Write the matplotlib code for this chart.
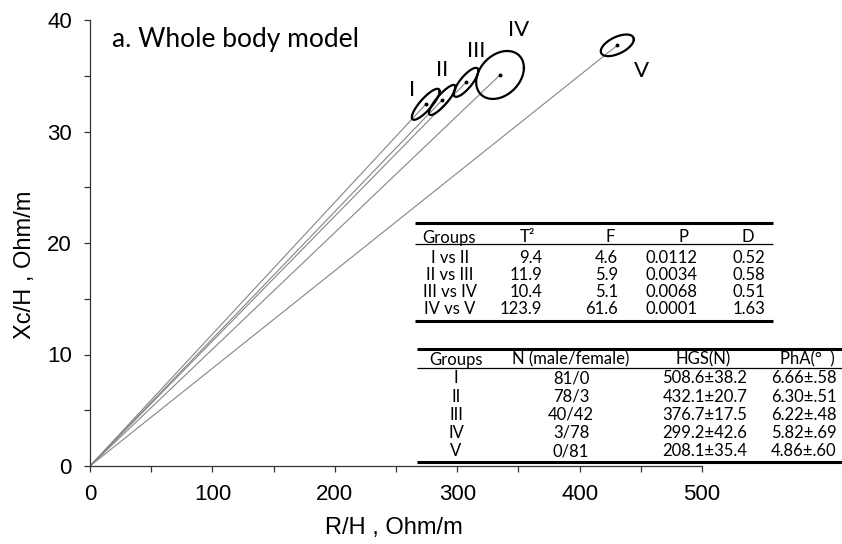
import numpy as np
import matplotlib
matplotlib.use('Agg')
import matplotlib.pyplot as plt
from matplotlib.lines import Line2D

# ellipse data (R/H, Xc/H)
groups = ['I', 'II', 'III', 'IV', 'V']
r_mean = [274.3, 287.8, 307.2, 335.0, 430.8]
xc_mean = [32.44, 32.83, 34.41, 35.07, 37.73]
r_half = [11.4, 10.9, 10.1, 19.5, 13.5]
xc_half = [1.39, 1.35, 1.30, 2.15, 0.97]
corr = [0.84, 0.86, 0.8, 0.3, 0.55]

# table 1
pairs = ['I vs II', 'II vs III', 'III vs IV', 'IV vs V']
t2_vals = [9.4, 11.9, 10.4, 123.9]
f_vals = [4.6, 5.9, 5.1, 61.6]
p_vals = [0.0112, 0.0034, 0.0068, 0.0001]
d_vals = [0.52, 0.58, 0.51, 1.63]

# table 2
n_sex = ['81/0', '78/3', '40/42', '3/78', '0/81']
hgs_mean = [508.6, 432.1, 376.7, 299.2, 208.1]
hgs_sd = [38.2, 20.7, 17.5, 42.6, 35.4]
pha_mean = [6.66, 6.30, 6.22, 5.82, 4.86]
pha_sd = [0.58, 0.51, 0.48, 0.69, 0.60]

W, H = 842, 544
TFONT = 'Lato'
AFONT = 'Liberation Sans'


def px(x, y):
    return x / W, 1 - y / H


def hline(fig, x0, x1, y, lw):
    a = px(x0, y)
    b = px(x1, y)
    fig.add_artist(Line2D([a[0], b[0]], [a[1], b[1]], transform=fig.transFigure,
                          color='black', lw=lw, solid_capstyle='butt'))


def ftext(fig, x, y, s, ha='center', size=12):
    fx, fy = px(x, y)
    fig.text(fx, fy, s, ha=ha, va='center', fontsize=size, family=TFONT)


def main():
    fig = plt.figure(figsize=(W / 100, H / 100), dpi=100)
    ax = fig.add_axes([90 / W, 1 - 466 / H, 612 / W, 446 / H])
    ax.set_xlim(0, 500)
    ax.set_ylim(0, 40)

    t = np.linspace(0, 2 * np.pi, 200)
    for i in range(len(groups)):
        ax.plot([0, r_mean[i]], [0, xc_mean[i]], color='#858585', lw=0.8, zorder=1)
        ex = r_mean[i] + r_half[i] * np.cos(t)
        ey = xc_mean[i] + xc_half[i] * (corr[i] * np.cos(t) + np.sqrt(1 - corr[i] ** 2) * np.sin(t))
        ax.plot(ex, ey, color='black', lw=1.6, zorder=3)
        ax.plot(r_mean[i], xc_mean[i], 'o', color='black', ms=1.8, zorder=4)

    label_pos = [(262.8, 33.7), (287.3, 35.5), (315.4, 37.2), (350.5, 39.1), (450.2, 35.4)]
    for g, (lx, ly) in zip(groups, label_pos):
        ax.text(lx, ly, g, ha='center', va='center', fontsize=16, family=TFONT)

    ax.text(111.7 / W, 1 - 47 / H, 'a. Whole body model', transform=fig.transFigure,
            ha='left', va='baseline', fontsize=19, family=TFONT)

    for s in ['top', 'right']:
        ax.spines[s].set_visible(False)
    for s in ['left', 'bottom']:
        ax.spines[s].set_linewidth(0.9)
        ax.spines[s].set_color('#333333')
    ax.set_xticks([0, 100, 200, 300, 400, 500])
    ax.set_xticks([50, 150, 250, 350, 450], minor=True)
    ax.set_yticks([0, 10, 20, 30, 40])
    ax.set_yticks([5, 15, 25, 35], minor=True)
    ax.tick_params(which='both', direction='out', length=4, width=0.9, color='#333333')
    ax.tick_params(axis='x', which='major', pad=9)
    ax.tick_params(axis='y', which='major', pad=9)
    for lab in ax.get_xticklabels() + ax.get_yticklabels():
        lab.set_family(AFONT)
        lab.set_fontsize(16)
    ax.set_xlabel('R/H , Ohm/m', fontsize=17, family=AFONT)
    ax.set_ylabel('Xc/H , Ohm/m', fontsize=17, family=AFONT)
    ax.xaxis.set_label_coords((394 - 90) / 612, -0.115)
    ax.yaxis.set_label_coords(-0.088, 0.45)

    # table 1
    hline(fig, 415, 773, 223.3, 2.2)
    hline(fig, 415, 773, 244.3, 0.9)
    hline(fig, 415, 773, 321, 2.2)
    ftext(fig, 449, 237.5, 'Groups')
    ftext(fig, 527, 237.5, 'T²')
    ftext(fig, 610, 237.5, 'F')
    ftext(fig, 683, 237.5, 'P')
    ftext(fig, 748, 237.5, 'D')
    rows1 = [257.7, 275, 292.3, 309.3]
    for i, y in enumerate(rows1):
        ftext(fig, 450, y, pairs[i])
        ftext(fig, 542, y, f'{t2_vals[i]:.1f}', ha='right')
        ftext(fig, 618, y, f'{f_vals[i]:.1f}', ha='right')
        ftext(fig, 697, y, f'{p_vals[i]:.4f}', ha='right')
        ftext(fig, 749, y, f'{d_vals[i]:.2f}')

    # table 2
    hline(fig, 417, 842, 349.3, 2.2)
    hline(fig, 417, 842, 367.5, 0.9)
    hline(fig, 417, 842, 461.5, 2.2)
    ftext(fig, 456, 359.5, 'Groups')
    ftext(fig, 571, 359.5, 'N (male/female)')
    ftext(fig, 703, 359.5, 'HGS(N)')
    ftext(fig, 807, 359.5, 'PhA(°  )')
    rows2 = [378, 396.5, 415, 433, 451.5]
    for i, y in enumerate(rows2):
        ftext(fig, 456, y, groups[i])
        ftext(fig, 571, y, n_sex[i])
        ftext(fig, 705, y, f'{hgs_mean[i]:.1f}±{hgs_sd[i]:.1f}')
        ftext(fig, 804, y, f'{pha_mean[i]:.2f}±' + f'{pha_sd[i]:.2f}'[1:])

    fig.savefig('out.png', dpi=100)


if __name__ == '__main__':
    main()
